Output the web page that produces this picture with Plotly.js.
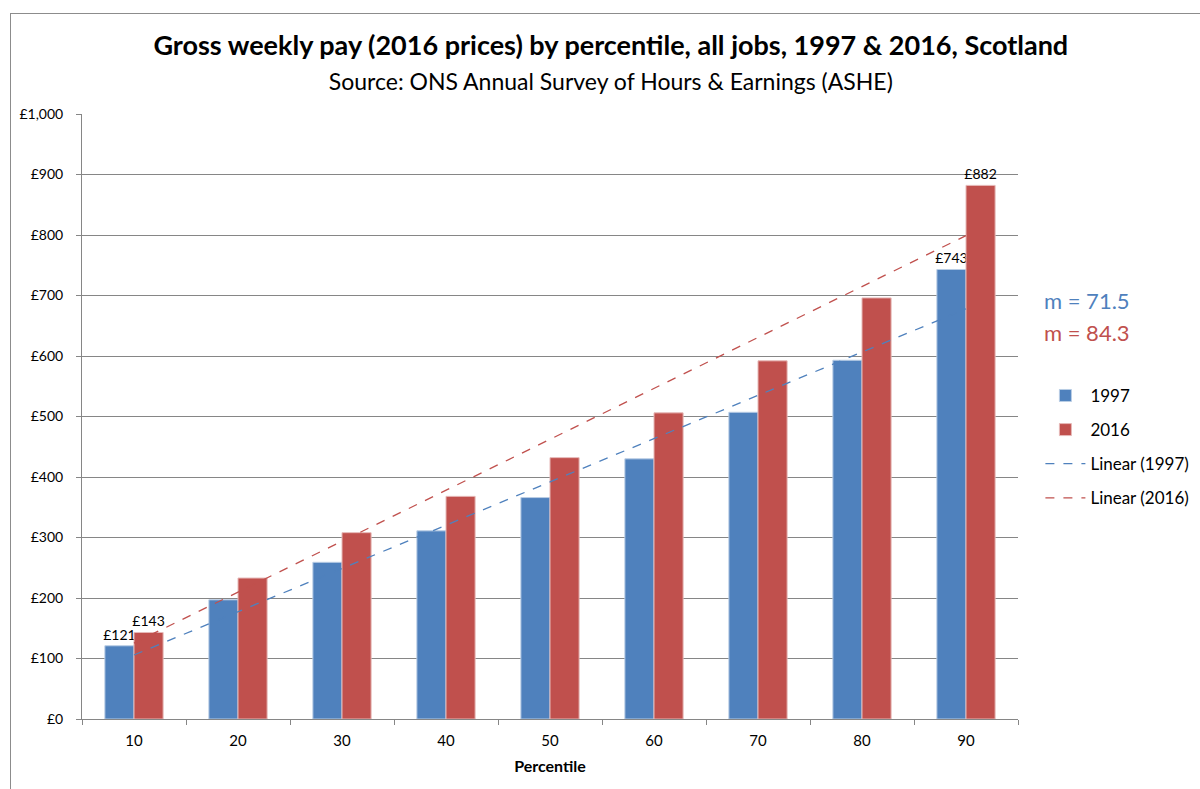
<!DOCTYPE html>
<html>
<head>
<meta charset="utf-8">
<script src="https://cdn.plot.ly/plotly-3.0.1.min.js"></script>
<style>
  html, body { margin: 0; padding: 0; width: 1200px; height: 789px; overflow: hidden; background: #ffffff; }
  #frame { position: absolute; left: 10px; top: 13px; width: 1300px; height: 900px; border: 1px solid #8c8c8c; box-sizing: border-box; }
  #chart { position: absolute; left: 0; top: 0; width: 1200px; height: 789px; }
</style>
</head>
<body>
<div id="frame"></div>
<div id="chart"></div>
<script>
// ---- data ----
const percentiles = ["10", "20", "30", "40", "50", "60", "70", "80", "90"];
const pay1997 = [121, 197, 259, 311, 366, 430, 507, 593, 743];
const pay2016 = [143, 233, 308, 368, 432, 506, 592, 696, 882];
const seriesNames = ["1997", "2016"];
const trendNames = ["Linear (1997)", "Linear (2016)"];
const slopeLabels = ["m = 71.5", "m = 84.3"];
const labelledIdx = [0, 8];   // bars carrying a value label
const yTicks = [0, 100, 200, 300, 400, 500, 600, 700, 800, 900, 1000];

const BLUE = "#4f81bd";
const RED = "#c0504d";
const FONT = "Lato, 'Open Sans', sans-serif";

// least squares linear trend over category index (as Excel does)
function linearTrend(vals) {
  const n = vals.length;
  const xs = vals.map((_, i) => i + 1);
  const mx = xs.reduce((a, b) => a + b, 0) / n;
  const my = vals.reduce((a, b) => a + b, 0) / n;
  let sxy = 0, sxx = 0;
  for (let i = 0; i < n; i++) { sxy += (xs[i] - mx) * (vals[i] - my); sxx += (xs[i] - mx) ** 2; }
  const m = sxy / sxx, b = my - m * mx;
  return xs.map(x => m * x + b);
}

function labels(vals) {
  return vals.map((v, i) => labelledIdx.includes(i) ? "£" + v : "");
}

const traces = [
  {
    type: "bar", name: seriesNames[0], x: percentiles, y: pay1997,
    marker: { color: BLUE, line: { color: "#b9cde5", width: 1 } },
    text: labels(pay1997), textposition: "outside", constraintext: "none", cliponaxis: false,
    textfont: { family: FONT, size: 14, color: "#000000" },
    legendgroup: "a", hoverinfo: "x+y"
  },
  {
    type: "bar", name: seriesNames[1], x: percentiles, y: pay2016,
    marker: { color: RED, line: { color: "#e6b9b8", width: 1 } },
    text: labels(pay2016), textposition: "outside", constraintext: "none", cliponaxis: false,
    textfont: { family: FONT, size: 14, color: "#000000" },
    legendgroup: "b", hoverinfo: "x+y"
  },
  {
    type: "scatter", mode: "lines", name: trendNames[0], x: percentiles, y: linearTrend(pay1997),
    line: { color: BLUE, width: 1.3, dash: "dash" }, legendgroup: "c"
  },
  {
    type: "scatter", mode: "lines", name: trendNames[1], x: percentiles, y: linearTrend(pay2016),
    line: { color: RED, width: 1.3, dash: "dash" }, legendgroup: "d"
  }
];

const layout = {
  width: 1200, height: 789,
  margin: { l: 82, r: 182, t: 114, b: 70 },
  paper_bgcolor: "rgba(0,0,0,0)", plot_bgcolor: "rgba(0,0,0,0)",
  font: { family: FONT, color: "#000000" },
  title: {
    text: "<b>Gross weekly pay (2016 prices) by percentile, all jobs, 1997 &amp; 2016, Scotland</b><br><span style='font-size:23px'>Source: ONS Annual Survey of Hours &amp; Earnings (ASHE)</span>",
    font: { family: FONT, size: 27, color: "#000000" },
    xref: "container", yref: "container",
    x: 0.509, xanchor: "center", y: 0.93, yanchor: "middle"
  },
  barmode: "group", bargap: 0.44, bargroupgap: 0,
  xaxis: {
    type: "category", tickson: "boundaries", ticks: "outside", ticklen: 5, tickcolor: "#868686",
    showline: true, linecolor: "#868686", linewidth: 1, showgrid: false,
    ticklabelstandoff: 8,
    tickfont: { family: FONT, size: 15, color: "#000000" },
    title: { text: "<b>Percentile</b>", font: { family: FONT, size: 16, color: "#000000" }, standoff: 12 }
  },
  yaxis: {
    range: [0, 1000], tickvals: yTicks, ticktext: yTicks.map(v => "£" + v.toLocaleString("en-GB")),
    ticks: "outside", ticklen: 5, tickcolor: "#868686",
    showline: true, linecolor: "#868686", linewidth: 1,
    showgrid: true, gridcolor: "#868686", gridwidth: 1, zeroline: false,
    ticklabelstandoff: 10,
    tickfont: { family: FONT, size: 14, color: "#000000" }
  },
  showlegend: true,
  legend: {
    xref: "container", yref: "container",
    x: 0.867, xanchor: "left", y: 0.521, yanchor: "top",
    font: { family: FONT, size: 17, color: "#000000" },
    tracegroupgap: 9, itemwidth: 40, bgcolor: "rgba(0,0,0,0)"
  },
  annotations: [
    { xref: "paper", yref: "paper", x: 1.026, y: 0.691, xanchor: "left", yanchor: "middle", showarrow: false,
      text: slopeLabels[0], font: { family: FONT, size: 22, color: BLUE } },
    { xref: "paper", yref: "paper", x: 1.026, y: 0.639, xanchor: "left", yanchor: "middle", showarrow: false,
      text: slopeLabels[1], font: { family: FONT, size: 22, color: RED } }
  ]
};

Plotly.newPlot("chart", traces, layout, { displayModeBar: false, responsive: false });
</script>
</body>
</html>
